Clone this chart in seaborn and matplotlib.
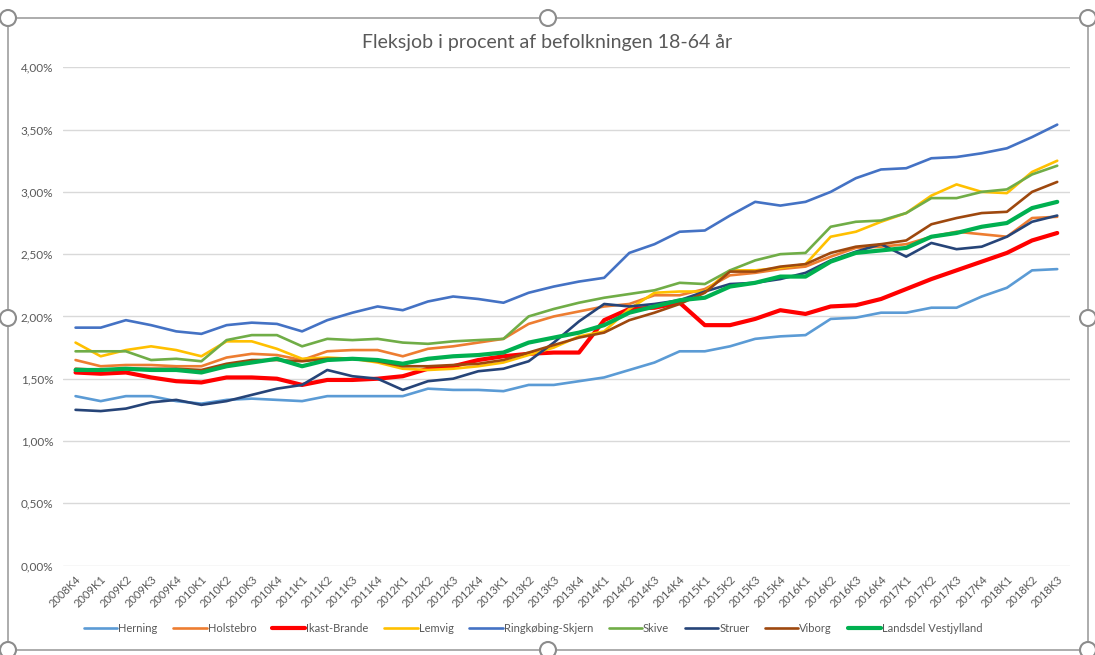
import pandas as pd
import matplotlib.pyplot as plt
import seaborn as sns
from matplotlib.patches import Rectangle, Ellipse
from matplotlib.ticker import FuncFormatter

sns.set_theme(style="white")
plt.rcParams["font.family"] = ["Lato", "DejaVu Sans"]

QUARTERS = ["2008K4"] + [f"{y}K{q}" for y in range(2009, 2018) for q in range(1, 5)] + ["2018K1", "2018K2", "2018K3"]

# andele i procent
herning = [1.36, 1.32, 1.36, 1.36, 1.32, 1.30, 1.33, 1.34, 1.33, 1.32,
           1.36, 1.36, 1.36, 1.36, 1.42, 1.41, 1.41, 1.40, 1.45, 1.45,
           1.48, 1.51, 1.57, 1.63, 1.72, 1.72, 1.76, 1.82, 1.84, 1.85,
           1.98, 1.99, 2.03, 2.03, 2.07, 2.07, 2.16, 2.23, 2.37, 2.38]
holstebro = [1.65, 1.60, 1.61, 1.61, 1.60, 1.60, 1.67, 1.70, 1.69, 1.65,
             1.72, 1.73, 1.73, 1.68, 1.74, 1.76, 1.79, 1.82, 1.94, 2.00,
             2.04, 2.08, 2.10, 2.17, 2.17, 2.22, 2.33, 2.35, 2.38, 2.40,
             2.48, 2.55, 2.56, 2.58, 2.64, 2.68, 2.66, 2.64, 2.79, 2.80]
ikast = [1.55, 1.54, 1.55, 1.51, 1.48, 1.47, 1.51, 1.51, 1.50, 1.45,
         1.49, 1.49, 1.50, 1.52, 1.58, 1.60, 1.65, 1.68, 1.70, 1.71,
         1.71, 1.97, 2.06, 2.07, 2.11, 1.93, 1.93, 1.98, 2.05, 2.02,
         2.08, 2.09, 2.14, 2.22, 2.30, 2.37, 2.44, 2.51, 2.61, 2.67]
lemvig = [1.79, 1.68, 1.73, 1.76, 1.73, 1.68, 1.80, 1.80, 1.74, 1.66,
          1.67, 1.66, 1.63, 1.58, 1.57, 1.58, 1.60, 1.63, 1.69, 1.75,
          1.84, 1.88, 2.06, 2.19, 2.20, 2.20, 2.37, 2.37, 2.39, 2.42,
          2.64, 2.68, 2.76, 2.83, 2.97, 3.06, 3.00, 2.99, 3.16, 3.25]
ringkobing = [1.91, 1.91, 1.97, 1.93, 1.88, 1.86, 1.93, 1.95, 1.94, 1.88,
              1.97, 2.03, 2.08, 2.05, 2.12, 2.16, 2.14, 2.11, 2.19, 2.24,
              2.28, 2.31, 2.51, 2.58, 2.68, 2.69, 2.81, 2.92, 2.89, 2.92,
              3.00, 3.11, 3.18, 3.19, 3.27, 3.28, 3.31, 3.35, 3.44, 3.54]
skive = [1.72, 1.72, 1.72, 1.65, 1.66, 1.64, 1.81, 1.85, 1.85, 1.76,
         1.82, 1.81, 1.82, 1.79, 1.78, 1.80, 1.81, 1.82, 2.00, 2.06,
         2.11, 2.15, 2.18, 2.21, 2.27, 2.26, 2.37, 2.45, 2.50, 2.51,
         2.72, 2.76, 2.77, 2.83, 2.95, 2.95, 3.00, 3.02, 3.14, 3.21]
struer = [1.25, 1.24, 1.26, 1.31, 1.33, 1.29, 1.32, 1.37, 1.42, 1.45,
          1.57, 1.52, 1.50, 1.41, 1.48, 1.50, 1.56, 1.58, 1.64, 1.79,
          1.96, 2.10, 2.08, 2.10, 2.13, 2.20, 2.26, 2.27, 2.30, 2.35,
          2.45, 2.52, 2.58, 2.48, 2.59, 2.54, 2.56, 2.64, 2.76, 2.81]
viborg = [1.58, 1.57, 1.58, 1.58, 1.58, 1.57, 1.62, 1.65, 1.65, 1.64,
          1.66, 1.66, 1.64, 1.60, 1.60, 1.61, 1.62, 1.65, 1.71, 1.77,
          1.83, 1.87, 1.97, 2.03, 2.10, 2.19, 2.36, 2.36, 2.40, 2.42,
          2.51, 2.56, 2.58, 2.61, 2.74, 2.79, 2.83, 2.84, 3.00, 3.08]
landsdel = [1.57, 1.57, 1.58, 1.57, 1.57, 1.55, 1.60, 1.63, 1.66, 1.60,
            1.65, 1.66, 1.65, 1.62, 1.66, 1.68, 1.69, 1.71, 1.79, 1.83,
            1.87, 1.93, 2.03, 2.08, 2.13, 2.15, 2.24, 2.27, 2.32, 2.32,
            2.44, 2.51, 2.53, 2.55, 2.64, 2.67, 2.72, 2.75, 2.87, 2.92]

SERIES = {
    "Herning": herning,
    "Holstebro": holstebro,
    "Ikast-Brande": ikast,
    "Lemvig": lemvig,
    "Ringkøbing-Skjern": ringkobing,
    "Skive": skive,
    "Struer": struer,
    "Viborg": viborg,
    "Landsdel Vestjylland": landsdel,
}
COLORS = {
    "Herning": "#5B9BD5",
    "Holstebro": "#ED7D31",
    "Ikast-Brande": "#FF0000",
    "Lemvig": "#FFC000",
    "Ringkøbing-Skjern": "#4472C4",
    "Skive": "#70AD47",
    "Struer": "#264478",
    "Viborg": "#9E480E",
    "Landsdel Vestjylland": "#00B050",
}
WIDTHS = {"Ikast-Brande": 3.0, "Landsdel Vestjylland": 3.0}

rows = []
for name, vals in SERIES.items():
    for i, v in enumerate(vals):
        rows.append({"kommune": name, "pos": i, "andel": v / 100})
df = pd.DataFrame(rows)

fig = plt.figure(figsize=(10.95, 6.55), dpi=100)
ax = fig.add_axes([0.0575, 0.1366, 0.9195, 0.7606])

for name in SERIES:
    sns.lineplot(data=df[df["kommune"] == name], x="pos", y="andel",
                 color=COLORS[name], linewidth=WIDTHS.get(name, 1.9),
                 label=name, ax=ax)

ax.set_xlim(-0.5, len(QUARTERS) - 0.5)
ax.set_ylim(0, 0.04)
ax.set_yticks([i * 0.005 for i in range(9)])
ax.yaxis.set_major_formatter(FuncFormatter(lambda v, p: f"{v * 100:.2f}%".replace(".", ",")))
ax.set_xticks(range(len(QUARTERS)))
ax.set_xticklabels(QUARTERS, rotation=45, ha="right", rotation_mode="anchor",
                   fontsize=8, color="#595959")
ax.tick_params(axis="y", labelsize=8.5, colors="#595959", length=0, pad=7)
ax.tick_params(axis="x", length=0, pad=6)
ax.set_xlabel("")
ax.set_ylabel("")
ax.grid(axis="y", color="#D9D9D9", linewidth=1)
ax.grid(axis="x", visible=False)
for s in ax.spines.values():
    s.set_visible(False)

fig.text(0.5, 0.935, "Fleksjob i procent af befolkningen 18-64 år",
         ha="center", va="center", fontsize=14, color="#595959")

ax.legend(loc="center", bbox_to_anchor=(0.487, 0.041), bbox_transform=fig.transFigure,
          ncol=9, frameon=False, fontsize=8, handlelength=3.0, handletextpad=0.1,
          columnspacing=1.4, labelcolor="#595959")

# ramme og håndtag fra markeret diagram
W, H = 1095, 655
fig.patches.append(Rectangle((8 / W, 1 - 650 / H), 1080 / W, 632 / H, transform=fig.transFigure,
                             fill=False, edgecolor="#A6A6A6", linewidth=1.3))
for hx, hy in [(8, 18), (548, 18), (1088, 18), (8, 318), (1088, 318), (8, 650), (548, 650), (1088, 650)]:
    fig.patches.append(Ellipse((hx / W, 1 - hy / H), 16 / W, 16 / H, transform=fig.transFigure,
                               facecolor="white", edgecolor="#8C8C8C", linewidth=1.5))

plt.savefig("out.png", dpi=100)
plt.close()
